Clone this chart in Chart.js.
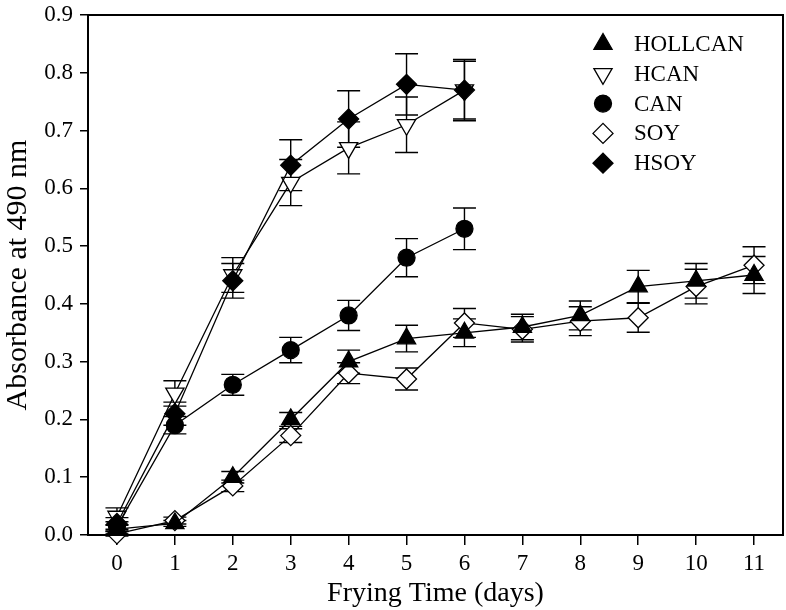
<!DOCTYPE html>
<html>
<head>
<meta charset="utf-8">
<script src="https://cdn.jsdelivr.net/npm/chart.js@4/dist/chart.umd.min.js"></script>
<style>
  html, body { margin: 0; padding: 0; background: #fff; }
  #wrap { width: 786px; height: 610px; position: relative; }
</style>
</head>
<body>
<div id="wrap"><canvas id="chart"></canvas></div>
<script>
'use strict';

/* ── data ── */
const days = [0, 1, 2, 3, 4, 5, 6, 7, 8, 9, 10, 11];
const xTicks = [0, 1, 2, 3, 4, 5, 6, 7, 8, 9, 10, 11];
const yTicks = [0, 0.1, 0.2, 0.3, 0.4, 0.5, 0.6, 0.7, 0.8, 0.9];

const hollcan    = [0.01, 0.02, 0.10, 0.20, 0.30, 0.34, 0.35, 0.36, 0.38, 0.43, 0.44, 0.45];
const hollcanErr = [0.008, 0.005, 0.01, 0.012, 0.02, 0.023, 0.024, 0.022, 0.025, 0.028, 0.03, 0.032];

const hcan    = [0.032, 0.245, 0.45, 0.61, 0.67, 0.71, 0.77];
const hcanErr = [0.015, 0.022, 0.03, 0.04, 0.045, 0.048, 0.05];

const can    = [0.015, 0.19, 0.26, 0.32, 0.38, 0.48, 0.53];
const canErr = [0.008, 0.015, 0.018, 0.022, 0.026, 0.033, 0.036];

const soy    = [0.002, 0.025, 0.085, 0.172, 0.28, 0.27, 0.367, 0.356, 0.37, 0.376, 0.43, 0.467];
const soyErr = [0.004, 0.006, 0.01, 0.012, 0.018, 0.019, 0.025, 0.022, 0.025, 0.025, 0.03, 0.032];

const hsoy    = [0.02, 0.21, 0.44, 0.64, 0.72, 0.78, 0.77];
const hsoyErr = [0.01, 0.02, 0.03, 0.044, 0.049, 0.053, 0.053];

const FONT = "'Liberation Serif', 'Times New Roman', serif";

function pts(values) {
  return values.map((v, i) => ({ x: days[i], y: v }));
}

function series(label, values, errs, style, fill, radius, rotation, order) {
  return {
    label: label,
    data: pts(values),
    errors: errs,
    borderColor: '#000',
    borderWidth: 1.3,
    pointStyle: style,
    pointRadius: radius,
    pointRotation: rotation,
    pointBackgroundColor: fill,
    pointBorderColor: '#000',
    pointBorderWidth: 1.3,
    tension: 0,
    clip: false,
    order: order,
  };
}

/* ── error bars, drawn under the markers ── */
const errorBars = {
  id: 'errorBars',
  beforeDatasetsDraw(chart) {
    const ctx = chart.ctx;
    const xs = chart.scales.x, ys = chart.scales.y;
    ctx.save();
    ctx.strokeStyle = '#000';
    ctx.lineWidth = 1.4;
    chart.data.datasets.forEach(ds => {
      ds.data.forEach((p, i) => {
        const e = ds.errors[i];
        const px = xs.getPixelForValue(p.x);
        const top = ys.getPixelForValue(p.y + e);
        const bot = ys.getPixelForValue(p.y - e);
        ctx.beginPath();
        ctx.moveTo(px, top); ctx.lineTo(px, bot);
        ctx.moveTo(px - 11.5, top); ctx.lineTo(px + 11.5, top);
        ctx.moveTo(px - 11.5, bot); ctx.lineTo(px + 11.5, bot);
        ctx.stroke();
      });
    });
    ctx.restore();
  }
};

/* ── box frame + legend ── */
const frameAndLegend = {
  id: 'frameAndLegend',
  afterDraw(chart) {
    const ctx = chart.ctx;
    const a = chart.chartArea;
    ctx.save();
    ctx.strokeStyle = '#000';
    ctx.lineWidth = 2;
    ctx.strokeRect(a.left, a.top, a.right - a.left, a.bottom - a.top);

    ctx.font = '23px ' + FONT;
    ctx.textBaseline = 'middle';
    ctx.textAlign = 'left';
    chart.data.datasets.forEach((ds, i) => {
      const y = 44 + i * 29.8;
      const opts = {
        pointStyle: ds.pointStyle,
        radius: ds.pointRadius,
        rotation: ds.pointRotation,
        borderWidth: ds.pointBorderWidth,
      };
      ctx.fillStyle = ds.pointBackgroundColor;
      ctx.strokeStyle = '#000';
      ctx.lineWidth = ds.pointBorderWidth;
      Chart.helpers.drawPoint(ctx, opts, 603, y);
      ctx.fillStyle = '#000';
      ctx.fillText(ds.label, 634, y + 1);
    });
    ctx.restore();
  }
};

const datasets = [
  series('HOLLCAN', hollcan, hollcanErr, 'triangle', '#000', 10.5, 0, 1),
  series('HCAN',    hcan,    hcanErr,    'triangle', '#fff', 10.5, 180, 3),
  series('CAN',     can,     canErr,     'circle',   '#000', 8.5, 0, 2),
  series('SOY',     soy,     soyErr,     'rectRot',  '#fff', 10, 0, 4),
  series('HSOY',    hsoy,    hsoyErr,    'rectRot',  '#000', 10, 0, 0),
];

new Chart(document.getElementById('chart'), {
  type: 'line',
  data: { datasets: datasets },
  options: {
    responsive: true,
    maintainAspectRatio: false,
    animation: false,
    layout: { autoPadding: false, padding: { top: 15, right: 3, left: 0, bottom: 0 } },
    plugins: {
      legend: { display: false },
      tooltip: { enabled: false },
    },
    scales: {
      x: {
        type: 'linear',
        min: -0.5,
        max: 11.5,
        afterBuildTicks: axis => { axis.ticks = xTicks.map(v => ({ value: v })); },
        afterFit: axis => {
          axis.height = 75;
          axis.paddingLeft = 0;
          axis.paddingRight = 0;
        },
        border: { display: false },
        grid: { drawOnChartArea: false, tickLength: 10, color: '#000', lineWidth: 1.5 },
        ticks: {
          color: '#000',
          font: { family: FONT, size: 23 },
          padding: 5,
          maxRotation: 0,
          callback: v => String(v),
        },
        title: {
          display: true,
          text: 'Frying Time (days)',
          color: '#000',
          font: { family: FONT, size: 28 },
          padding: { top: 4, bottom: 0 },
        },
      },
      y: {
        type: 'linear',
        min: 0,
        max: 0.9,
        afterBuildTicks: axis => { axis.ticks = yTicks.map(v => ({ value: v })); },
        afterFit: axis => {
          axis.width = 88;
          axis.paddingTop = 0;
          axis.paddingBottom = 0;
        },
        border: { display: false },
        grid: { drawOnChartArea: false, tickLength: 8, color: '#000', lineWidth: 1.5 },
        ticks: {
          color: '#000',
          font: { family: FONT, size: 23 },
          padding: 7,
          callback: v => v.toFixed(1),
        },
        title: {
          display: true,
          text: 'Absorbance at 490 nm',
          color: '#000',
          font: { family: FONT, size: 30 },
          padding: { top: 0, bottom: 2 },
        },
      },
    },
  },
  plugins: [errorBars, frameAndLegend],
});
</script>
</body>
</html>
